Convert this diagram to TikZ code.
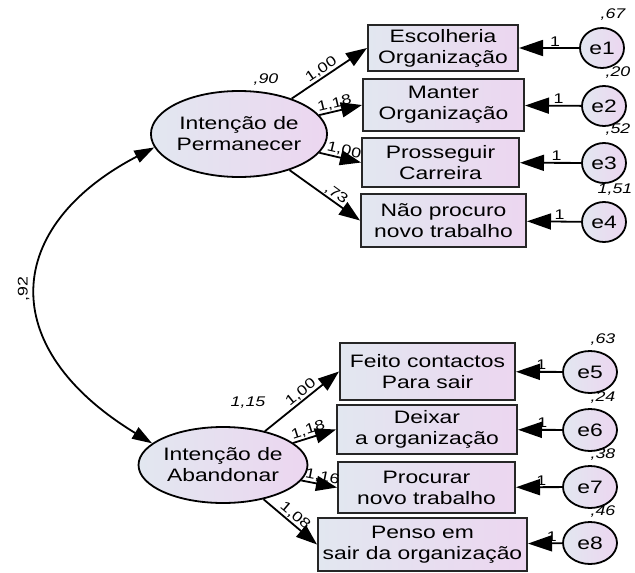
\documentclass[tikz,border=0pt]{standalone}
\usepackage{fontspec}
\setmainfont{Liberation Sans}[FakeStretch=1.27]
\usetikzlibrary{shapes.geometric,arrows.meta}
\definecolor{cL}{RGB}{226,231,240}
\definecolor{cR}{RGB}{236,214,240}
\begin{document}
\begin{tikzpicture}[x=1pt,y=-1pt,
  every node/.style={font=\fontsize{18}{21}\selectfont},
  latent/.style={ellipse, draw=black, line width=1.8pt, left color=cL, right color=cR, inner sep=0pt, align=center},
  obs/.style={rectangle, draw=black!85, line width=2pt, left color=cL, right color=cR, inner sep=0pt, align=center},
  err/.style={ellipse, draw=black, line width=1.8pt, left color=cL, right color=cR, inner sep=0pt},
  load/.style={line width=1.8pt, -{Triangle[length=21pt,width=15pt]}},
  errarr/.style={line width=1.8pt, -{Triangle[length=24pt,width=16pt]}},
  coef/.style={font=\fontsize{14}{15}\selectfont, sloped, above, inner sep=1pt},
  one/.style={font=\fontsize{14}{15}\selectfont, above, inner sep=1pt},
  var/.style={font=\itshape\fontsize{14}{15}\selectfont, inner sep=0pt},
]
\useasboundingbox (0,0) rectangle (635,573);

% latent variables
\node[latent, minimum width=162pt, minimum height=86pt] (L1) at (239,134) {Intenção de\\Permanecer};
\node[latent, minimum width=163pt, minimum height=76pt] (L2) at (223,465) {Intenção de\\Abandonar};

% observed top
\node[obs, minimum width=150pt, minimum height=46pt] (b1) at (443,48) {Escolheria\\Organização};
\node[obs, minimum width=161pt, minimum height=52pt] (b2) at (443.5,105) {Manter\\Organização};
\node[obs, minimum width=157pt, minimum height=49pt] (b3) at (440.5,162.5) {Prosseguir\\Carreira};
\node[obs, minimum width=165pt, minimum height=53pt] (b4) at (443.5,220.5) {Não procuro\\novo trabalho};

% observed bottom
\node[obs, minimum width=175pt, minimum height=57pt] (b5) at (427.5,371.5) {Feito contactos\\Para sair};
\node[obs, minimum width=180pt, minimum height=49pt] (b6) at (427,429.5) {Deixar\\a organização};
\node[obs, minimum width=177pt, minimum height=51pt] (b7) at (426.5,487.5) {Procurar\\novo trabalho};
\node[obs, minimum width=209pt, minimum height=53pt] (b8) at (422.5,544.5) {Penso em\\sair da organização};

% errors
\node[err, minimum width=44pt, minimum height=40pt] (e1) at (602,48) {e1};
\node[err, minimum width=44pt, minimum height=40pt] (e2) at (604,106) {e2};
\node[err, minimum width=44pt, minimum height=40pt] (e3) at (604,163) {e3};
\node[err, minimum width=44pt, minimum height=40pt] (e4) at (604,222) {e4};
\node[err, minimum width=54pt, minimum height=42pt] (e5) at (590,372) {e5};
\node[err, minimum width=54pt, minimum height=42pt] (e6) at (590,430) {e6};
\node[err, minimum width=54pt, minimum height=42pt] (e7) at (590,487) {e7};
\node[err, minimum width=54pt, minimum height=42pt] (e8) at (590,543) {e8};

% loadings
\draw[load] (L1) -- node[coef, pos=0.45] {1,00} (b1.west);
\draw[load] (L1) -- node[coef, pos=0.4] {1,18} (b2.west);
\draw[load] (L1) -- node[coef, pos=0.55] {1,00} (b3.west);
\draw[load] (L1) -- node[coef, pos=0.6] {,73} (b4.west);
\draw[load] (L2) -- node[coef, pos=0.55] {1,00} (b5.west);
\draw[load] (L2) -- node[coef, pos=0.4] {1,18} (b6.west);
\draw[load] (L2) -- node[coef, pos=0.55] {1,16} (b7.west);
\draw[load] (L2) -- node[coef, pos=0.5] {1,08} (b8.west);

% error paths
\draw[errarr] (e1) -- node[one, pos=0.4] {1} (b1);
\draw[errarr] (e2) -- node[one, pos=0.4] {1} (b2);
\draw[errarr] (e3) -- node[one, pos=0.4] {1} (b3);
\draw[errarr] (e4) -- node[one, pos=0.4] {1} (b4);
\draw[errarr] (e5) -- node[one, pos=0.45] {1} (b5);
\draw[errarr] (e6) -- node[one, pos=0.45] {1} (b6);
\draw[errarr] (e7) -- node[one, pos=0.45] {1} (b7);
\draw[errarr] (e8) -- node[one, pos=0.3] {1} (b8);

% covariance
\draw[line width=1.8pt, {Triangle[length=20pt,width=13pt]}-{Triangle[length=20pt,width=13pt]}]
  (L1.189) .. controls (4,226) and (-6,347) .. node[pos=0.5, left=4pt, rotate=90, anchor=south, font=\fontsize{14}{15}\selectfont] {,92} (L2.163);

% variances
\node[var] at (266,80) {,90};
\node[var] at (248,403) {1,15};
\node[var] at (613,15) {,67};
\node[var] at (618,73) {,20};
\node[var] at (618,130) {,52};
\node[var] at (615,190) {1,51};
\node[var] at (603,340) {,63};
\node[var] at (603,398) {,24};
\node[var] at (603,455) {,38};
\node[var] at (603,512) {,46};
\end{tikzpicture}
\end{document}
